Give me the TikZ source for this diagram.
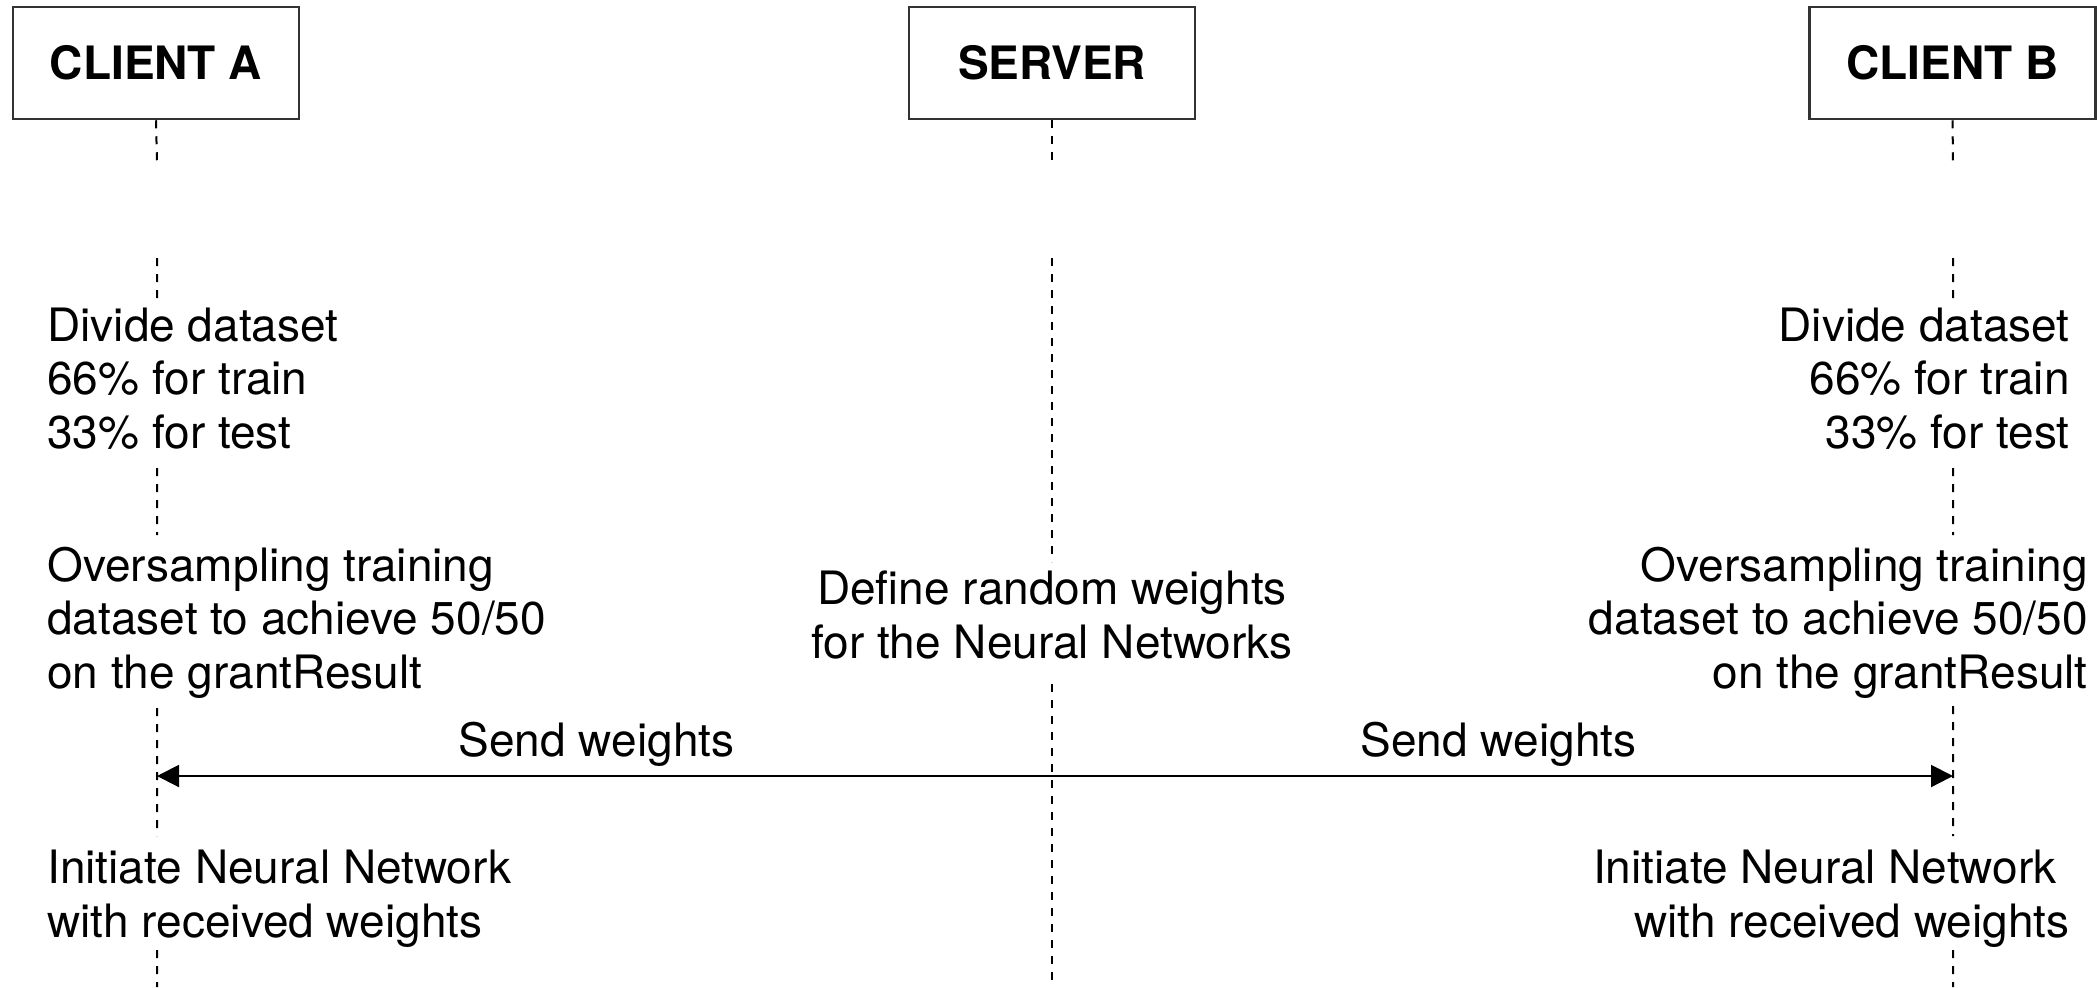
\documentclass[tikz,border=0pt]{standalone}
\usepackage{fontspec}
\setmainfont{TeX Gyre Heros}
\usetikzlibrary{arrows.meta}

\begin{document}
\begin{tikzpicture}[x=0.5pt, y=-0.5pt,
  actor/.style={draw=black!80, line width=1.25pt, minimum width=143pt,
    minimum height=56pt, inner sep=0pt,
    font=\fontsize{23}{26.75}\selectfont\bfseries},
  life/.style={line width=1pt, dash pattern=on 4pt off 4pt, black},
  note/.style={inner sep=0pt, font=\fontsize{23}{26.75}\selectfont},
  msg/.style={line width=1pt, -{Triangle[length=11pt,width=11pt]}},
]
\path[use as bounding box, fill=white] (0,0) rectangle (2097,987);

% participants
\node[actor] (ca) at (156,63) {CLIENT A};
\node[actor] (sv) at (1052,63) {SERVER};
\node[actor] (cb) at (1952.5,63) {CLIENT B};

% client A activities (anchored on the baseline of the last line)
\node[note, anchor=base west, align=left] (a1) at (47,448)
  {Divide dataset\\66\% for train\\33\% for test};
\node[note, anchor=base west, align=left] (a2) at (47,688)
  {Oversampling training\\dataset to achieve 50/50\\on the grantResult};
\node[note, anchor=base west, align=left] (a3) at (47,937)
  {Initiate Neural Network\\with received weights};

% server activity
\node[note, anchor=base, align=center] (s1) at (1052,658)
  {Define random weights\\for the Neural Networks};

% client B activities
\node[note, anchor=base east, align=right] (b1) at (2070,448)
  {Divide dataset\\66\% for train\\33\% for test};
\node[note, anchor=base east, align=right] (b2) at (2088,688)
  {Oversampling training\\dataset to achieve 50/50\\on the grantResult};
\node[note, anchor=base east, align=right] (b3) at (2070,937)
  {Initiate Neural Network\hspace*{0.28em}\\with received weights};

% lifeline break points
\foreach \n/\x in {A/157, S/1052, B/1953} {
  \coordinate (\n0) at (\x,163);
  \coordinate (\n1) at (\x,258);
  \coordinate (\n9) at (\x,987);
}
\coordinate (A2) at (157,300);  \coordinate (A3) at (157,468);
\coordinate (A4) at (157,535);  \coordinate (A5) at (157,708);
\coordinate (A6) at (157,836);  \coordinate (A7) at (157,950);
\coordinate (B2) at (1953,300); \coordinate (B3) at (1953,468);
\coordinate (B4) at (1953,535); \coordinate (B5) at (1953,706);
\coordinate (B6) at (1953,836); \coordinate (B7) at (1953,950);
\coordinate (S2) at (1052,562); \coordinate (S3) at (1052,684);
\coordinate (Sm) at (1052,776);
\coordinate (Am) at (157,776);
\coordinate (Bm) at (1953,776);

% lifelines
\draw[life] (ca.south) -- (A0) (A1) -- (A2) (A3) -- (A4) (A5) -- (A6) (A7) -- (A9);
\draw[life] (sv.south) -- (S0) (S1) -- (S2) (S3) -- (S9);
\draw[life] (cb.south) -- (B0) (B1) -- (B2) (B3) -- (B4) (B5) -- (B6) (B7) -- (B9);

% messages
\draw[msg] (Sm) -- (Am) node[note, midway, anchor=base, yshift=10pt, xshift=-4pt] (m1) {Send weights};
\draw[msg] (Sm) -- (Bm) node[note, midway, anchor=base, yshift=10pt, xshift=-2pt] (m2) {Send weights};
\end{tikzpicture}
\end{document}
